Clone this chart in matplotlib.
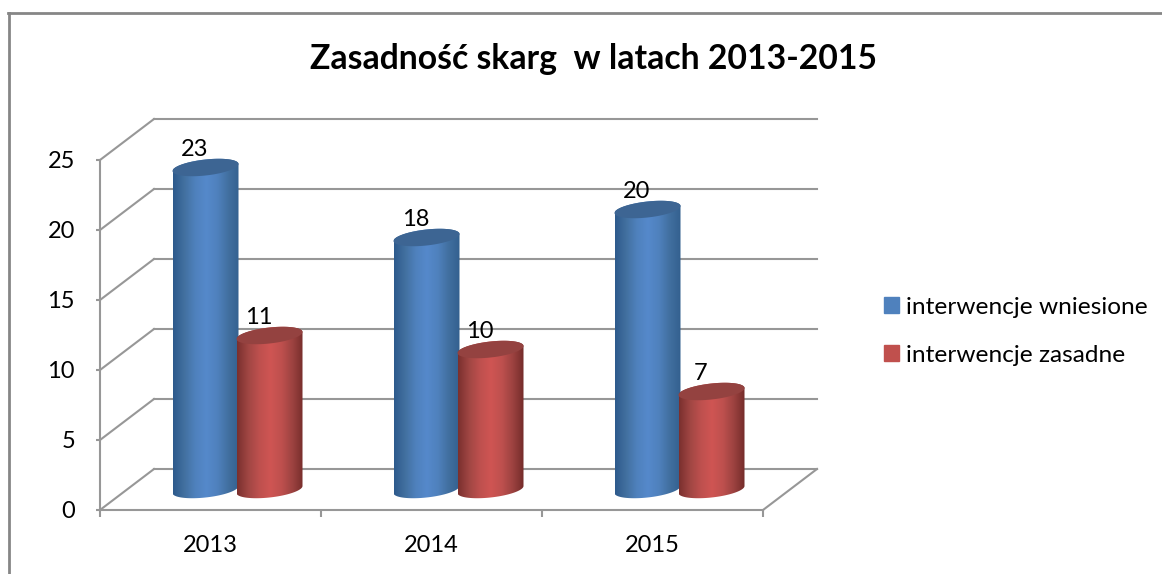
import numpy as np
import matplotlib
matplotlib.use("Agg")
import matplotlib.pyplot as plt
from matplotlib.colors import LinearSegmentedColormap
from matplotlib.lines import Line2D
from matplotlib.patches import Patch, PathPatch
from matplotlib.path import Path

years = ["2013", "2014", "2015"]
wniesione = [23, 18, 20]
zasadne = [11, 10, 7]
y_ticks = [0, 5, 10, 15, 20, 25]
series_names = ["interwencje wniesione", "interwencje zasadne"]
title = "Zasadność skarg  w latach 2013-2015"

W, H = 1162, 574
plt.rcParams['font.family'] = ['Lato', 'DejaVu Sans']
GREY = "#979797"

# oblique "3d" depth of the walls, in data units (54 px across, 41 px up)
depth_x = 54 / 221
depth_y = 41 / 14

# cylinder shape, in data units
half_w = 33 / 221
gap = 32 / 221
cap_b = 8 / 14
cap_tilt = 3.5 / 14

blue_cm = LinearSegmentedColormap.from_list("b", ["#2d5a8c", "#42709f", "#4f81bd", "#5589cb", "#4f81bd", "#416f9f", "#33608f"])
red_cm = LinearSegmentedColormap.from_list("r", ["#7a302e", "#a04643", "#be504e", "#cf5553", "#be504e", "#9c4240", "#742c2a"])

fig = plt.figure(figsize=(W / 100, H / 100), dpi=100)
ax = fig.add_axes([100 / W, (H - 510) / H, 663 / W, 350 / H])
ax.patch.set_visible(False)


def cylinder(xc, value, cmap, cap_color):
    t = np.linspace(0, np.pi, 60)
    base = depth_y / 2
    top_x = xc + half_w * np.cos(t)
    top_y = base + value + cap_b * np.sin(t) + cap_tilt * np.cos(t)
    bot_x = xc + half_w * np.cos(t[::-1])
    bot_y = base - cap_b * np.sin(t[::-1]) + cap_tilt * np.cos(t[::-1])
    xs = np.r_[top_x, bot_x, top_x[0]]
    ys = np.r_[top_y, bot_y, top_y[0]]
    verts = np.column_stack([xs, ys])
    body = PathPatch(Path(verts), fc="none", ec="none", clip_on=False)
    ax.add_patch(body)
    im = ax.imshow(np.linspace(0, 1, 256)[None, :], cmap=cmap, aspect="auto", zorder=3,
                   extent=[xc - half_w, xc + half_w, base - 2, base + value + 2], interpolation="bilinear")
    im.set_clip_path(body)
    im.set_clip_box(fig.bbox)
    # top cap
    tt = np.linspace(0, 2 * np.pi, 120)
    ax.fill(xc + half_w * np.cos(tt), base + value + cap_b * np.sin(tt) + cap_tilt * np.cos(tt),
            color=cap_color, lw=0, zorder=3.1, clip_on=False)


# back wall, side wall, floor
for v in y_ticks:
    ax.plot([depth_x, 3 + depth_x], [v + depth_y, v + depth_y], color=GREY, lw=1.5, zorder=1, clip_on=False)
    ax.plot([0, depth_x], [v, v + depth_y], color=GREY, lw=1.5, zorder=1, clip_on=False)
ax.plot([3, 3 + depth_x], [0, depth_y], color=GREY, lw=1.5, zorder=1, clip_on=False)

for i in range(len(years)):
    xc = i + 0.5 + depth_x / 2
    cylinder(xc - gap, wniesione[i], blue_cm, "#3d6593")
    cylinder(xc + gap, zasadne[i], red_cm, "#944240")
    for x, v in [(xc - gap, wniesione[i]), (xc + gap, zasadne[i])]:
        ax.annotate(str(v), (x, v + depth_y / 2), xytext=(-11, 18), textcoords="offset pixels",
                    ha="center", va="center", fontsize=17, color="black", zorder=5)

ax.set_xlim(0, 3)
ax.set_ylim(0, 25)
ax.set_yticks(y_ticks)
ax.set_xticks([0, 1, 2, 3])
ax.set_xticklabels([])
ax.set_xticks([0.5, 1.5, 2.5], labels=years, minor=True)
ax.tick_params(axis="x", which="major", length=5, width=1.5, color=GREY)
ax.tick_params(axis="x", which="minor", length=0, pad=18, labelsize=17)
ax.tick_params(axis="y", length=3, width=1.5, color=GREY, pad=15, labelsize=17)
for s in ["top", "right"]:
    ax.spines[s].set_visible(False)
for s in ["left", "bottom"]:
    ax.spines[s].set_color(GREY)
    ax.spines[s].set_linewidth(1.5)

fig.text(593 / W, 1 - 59 / H, title, ha="center", va="center", fontsize=24.3, fontweight="bold", color="black")

handles = [Patch(color="#4f81bd"), Patch(color="#c0504d")]
fig.legend(handles, series_names, loc="upper left", bbox_to_anchor=(884 / W, 1 - 297 / H), frameon=False,
           fontsize=17.6, borderpad=0, borderaxespad=0, handlelength=0.62, handleheight=0.62,
           handletextpad=0.29, labelspacing=1.1)

# chart frame
fig.add_artist(Line2D([9 / W, 9 / W], [0, 1 - 13 / H], color="#868686", lw=2, transform=fig.transFigure))
fig.add_artist(Line2D([8 / W, 1], [1 - 13 / H, 1 - 13 / H], color="#868686", lw=2, transform=fig.transFigure))

fig.savefig("out.png", dpi=100)
